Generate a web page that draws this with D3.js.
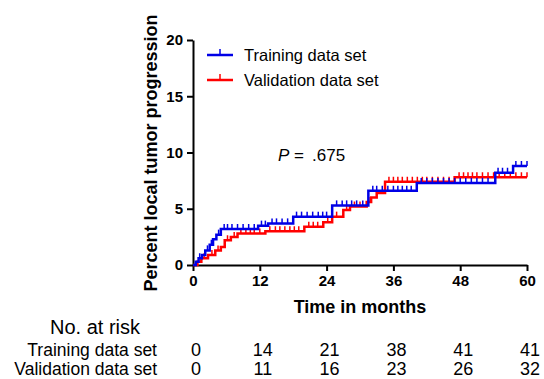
<!DOCTYPE html>
<meta charset="utf-8">
<style>
body { margin: 0; background: #fff; }
text { font-family: "Liberation Sans", Arial, sans-serif; }
.axis text { font-weight: bold; font-size: 15px; }
.axis path, .axis line { stroke: #000; stroke-width: 2px; }
</style>
<body>
<script src="https://d3js.org/d3.v7.min.js"></script>
<script>

// step curves: [month, percent]
var trainSteps = [[0,0],[0.5,0.3],[1,0.6],[1.6,0.9],[2.2,1.3],[3,1.8],[3.6,2.3],[4.2,2.7],[5,3.2],[11.7,3.5],[13.5,3.7],[18,4.3],[25,5.3],[31.5,6.6],[40.2,7.3],[54.3,8.2],[57.5,8.8],[60,8.8]];
var validSteps = [[0,0],[0.8,0.3],[1.5,0.6],[2.7,0.9],[4,1.3],[5,1.6],[5.7,2.2],[6.8,2.5],[8,2.8],[13,3.0],[20,3.4],[23.4,3.8],[25,4.3],[27,4.9],[28.2,5.2],[31.2,5.6],[32,6.0],[33,6.4],[34.5,7.4],[47,7.8],[60,7.8]];

// censored times (tick marks)
var trainCensor = [1.2,2.6,3.3,4.6,5.6,6.2,7,8,9,10,11,12.3,13,14.2,15,16,17,18.6,19.5,20.5,21.5,22.5,23.3,24,25.8,26.8,27.6,28.5,29.4,30.5,32.3,33,34,35,36,36.8,37.6,38.4,39.2,41,42,43,44,45,46,47,48,49,50,51,52,53,54.8,55.6,56.5,58,59,60];
var validCensor = [2,3.4,4.5,6.2,7.4,8.6,9.5,10.3,11,12,13.8,14.8,15.6,16.5,17.4,18.2,19,20.8,21.6,22.4,24.2,25.8,27.6,29,30,31.6,35.2,36,36.8,37.6,38.5,39.4,40.3,41.2,42,43,44,45,46,47.8,48.6,49.4,50.2,51,52,53,54,55,56,57,58,59,60];

var xTicks = [0, 12, 24, 36, 48, 60];
var yTicks = [0, 5, 10, 15, 20];
var riskTrain = [0, 14, 21, 38, 41, 41];
var riskValid = [0, 11, 16, 23, 26, 32];

var blue = "#0000e6", red = "#ff0000";

var svg = d3.select("body").append("svg")
    .attr("width", 544)
    .attr("height", 379);

var x = d3.scaleLinear().domain([0, 60]).range([193, 527]);
var y = d3.scaleLinear().domain([0, 20]).range([265, 40]);

// axes
svg.append("g")
    .attr("class", "axis")
    .attr("transform", "translate(0,265)")
    .call(d3.axisBottom(x).tickValues(xTicks).tickSize(6).tickSizeOuter(0).tickPadding(4));
svg.append("g")
    .attr("class", "axis")
    .attr("transform", "translate(193,0)")
    .call(d3.axisLeft(y).tickValues(yTicks).tickSize(6).tickSizeOuter(0).tickPadding(4));

var line = d3.line()
    .x(function(d) { return x(d[0]); })
    .y(function(d) { return y(d[1]); })
    .curve(d3.curveStepAfter);

function valueAt(steps, t) {
  var v = 0;
  steps.forEach(function(s) { if (s[0] <= t) v = s[1]; });
  return v;
}

function drawCurve(steps, censor, color) {
  svg.append("path")
      .datum(steps)
      .attr("fill", "none")
      .attr("stroke", color)
      .attr("stroke-width", 2.5)
      .attr("d", line);
  svg.append("g").selectAll("line")
      .data(censor)
    .enter().append("line")
      .attr("x1", function(d) { return x(d); })
      .attr("x2", function(d) { return x(d); })
      .attr("y1", function(d) { return y(valueAt(steps, d)); })
      .attr("y2", function(d) { return y(valueAt(steps, d)) - 5; })
      .attr("stroke", color)
      .attr("stroke-width", 1.5);
}

drawCurve(validSteps, validCensor, red);
drawCurve(trainSteps, trainCensor, blue);

// axis titles
svg.append("text")
    .attr("x", 360)
    .attr("y", 313)
    .attr("text-anchor", "middle")
    .attr("font-weight", "bold")
    .attr("font-size", "18px")
    .text("Time in months");

svg.append("text")
    .attr("transform", "translate(157,153) rotate(-90)")
    .attr("text-anchor", "middle")
    .attr("font-weight", "bold")
    .attr("font-size", "18px")
    .text("Percent local tumor progression");

// legend
var legend = [["Training data set", blue, 55], ["Validation data set", red, 80]];
legend.forEach(function(l) {
  svg.append("line")
      .attr("x1", 207).attr("x2", 233)
      .attr("y1", l[2]).attr("y2", l[2])
      .attr("stroke", l[1]).attr("stroke-width", 2.5);
  svg.append("line")
      .attr("x1", 220).attr("x2", 220)
      .attr("y1", l[2]).attr("y2", l[2] - 6)
      .attr("stroke", l[1]).attr("stroke-width", 1.5);
  svg.append("text")
      .attr("x", 244)
      .attr("y", l[2] + 6)
      .attr("font-size", "16.5px")
      .text(l[0]);
});

// P value
var p = svg.append("text")
    .attr("x", 278)
    .attr("y", 161)
    .attr("font-size", "17px");
p.append("tspan").attr("font-style", "italic").text("P");
p.append("tspan").text(" =");
p.append("tspan").attr("dx", 8).text(".675");

// number at risk table
svg.append("text")
    .attr("x", 50)
    .attr("y", 334)
    .attr("font-size", "20px")
    .text("No. at risk");

var rows = [["Training data set", riskTrain, 356], ["Validation data set", riskValid, 375]];
rows.forEach(function(r) {
  svg.append("text")
      .attr("x", 157)
      .attr("y", r[2])
      .attr("text-anchor", "end")
      .attr("font-size", "17.5px")
      .text(r[0]);
  svg.append("g").selectAll("text")
      .data(r[1])
    .enter().append("text")
      .attr("x", function(d, i) { return x(xTicks[i]) + 3; })
      .attr("y", r[2])
      .attr("text-anchor", "middle")
      .attr("font-size", "18px")
      .text(function(d) { return d; });
});

</script>
</body>
